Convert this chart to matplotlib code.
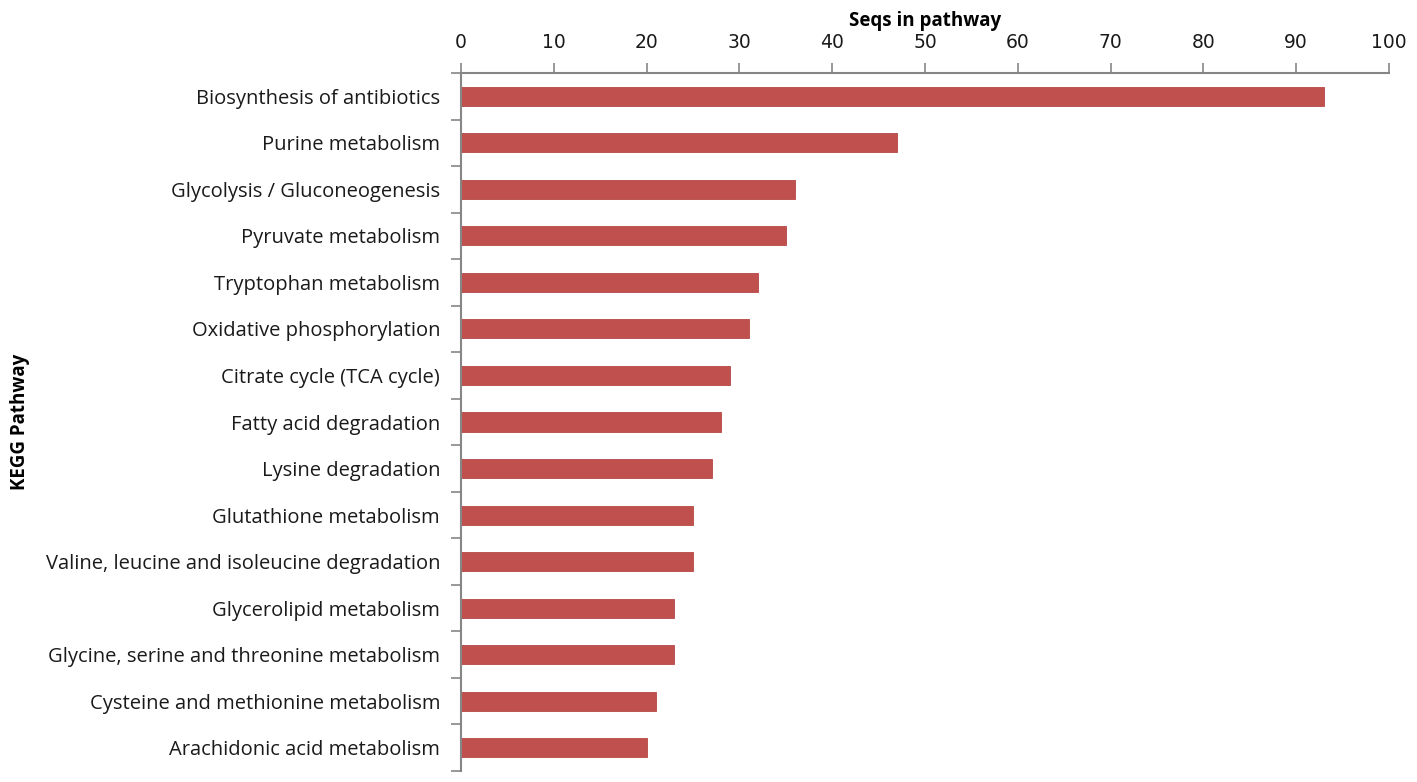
import matplotlib.pyplot as plt
import numpy as np

pathways = [
    'Biosynthesis of antibiotics',
    'Purine metabolism',
    'Glycolysis / Gluconeogenesis',
    'Pyruvate metabolism',
    'Tryptophan metabolism',
    'Oxidative phosphorylation',
    'Citrate cycle (TCA cycle)',
    'Fatty acid degradation',
    'Lysine degradation',
    'Glutathione metabolism',
    'Valine, leucine and isoleucine degradation',
    'Glycerolipid metabolism',
    'Glycine, serine and threonine metabolism',
    'Cysteine and methionine metabolism',
    'Arachidonic acid metabolism',
]
seqs = [93, 47, 36, 35, 32, 31, 29, 28, 27, 25, 25, 23, 23, 21, 20]
x_ticks = list(range(0, 101, 10))

bar_color = '#C0504D'
axis_color = '#868686'

fig = plt.figure(figsize=(14.17, 7.82), dpi=100)
ax = fig.add_axes([0.3253, 0.0141, 0.6549, 0.8925])

pos = np.arange(len(pathways))
ax.barh(pos, seqs, height=0.41, color=bar_color, edgecolor='#B84744', linewidth=0.6)

ax.set_xlim(0, 100)
ax.set_ylim(len(pathways) - 0.5, -0.5)

# x axis on top
ax.xaxis.tick_top()
ax.xaxis.set_label_position('top')
ax.set_xticks(x_ticks)
ax.set_xticklabels([str(t) for t in x_ticks], fontsize=13.5, family='DejaVu Sans', color='#1a1a1a')
ax.tick_params(axis='x', direction='out', length=7, width=1.2, color=axis_color, pad=8)
ax.set_xlabel('Seqs in pathway', fontsize=13.5, fontweight='bold', family='Open Sans', labelpad=5)

# y ticks between categories, labels at centres
ax.set_yticks(np.arange(-0.5, len(pathways), 1.0))
ax.set_yticklabels([])
ax.set_yticks(pos, minor=True)
ax.set_yticklabels(pathways, minor=True, fontsize=14.5, family='Open Sans', color='#1a1a1a')
ax.tick_params(axis='y', which='major', direction='out', length=7, width=1.2, color=axis_color)
ax.tick_params(axis='y', which='minor', length=0, pad=15)
ax.set_ylabel('KEGG Pathway', fontsize=13.5, fontweight='bold', family='Open Sans')
ax.yaxis.set_label_coords(-0.464, 0.5)

for side in ['right', 'bottom']:
    ax.spines[side].set_visible(False)
for side in ['left', 'top']:
    ax.spines[side].set_color(axis_color)
    ax.spines[side].set_linewidth(1.5)

fig.savefig('out.png', dpi=100)
